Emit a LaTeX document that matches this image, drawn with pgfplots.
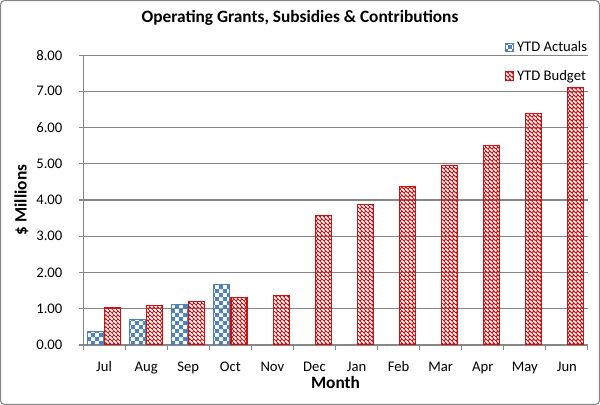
\documentclass[border=0pt]{standalone}
\usepackage{pgfplots}
\pgfplotsset{compat=1.18}
\usepackage{fontspec}
\setmainfont{Carlito}
\usetikzlibrary{patterns,patterns.meta}
\definecolor{actblue}{HTML}{4F81BD}
\definecolor{budred}{HTML}{D01010}
\definecolor{gridgray}{HTML}{868686}
\tikzdeclarepattern{
  name=zigzag,
  type=uncolored,
  bottom left={(-.1pt,-.1pt)},
  top right={(3.1pt,3.1pt)},
  tile size={(3pt,3pt)},
  code={
    \draw[line width=0.7pt] (0,0) -- (1.5pt,1.5pt) -- (3pt,0);
    \draw[line width=0.5pt] (0,3pt) -- (1.5pt,1.5pt);
  }
}
\tikzdeclarepattern{
  name=smallchecker,
  type=uncolored,
  bottom left={(0pt,0pt)},
  top right={(6pt,6pt)},
  tile size={(6pt,6pt)},
  code={
    \fill (0,0) rectangle (3pt,3pt);
    \fill (3pt,3pt) rectangle (6pt,6pt);
  }
}
\begin{document}
\begin{tikzpicture}[x=1pt,y=1pt]
% outer chart frame (600x405 px at 0.75pt/px)
\draw[gridgray, line width=0.8pt, rounded corners=3pt]
  (-61.9pt,-44.6pt) rectangle (387.4pt,258.4pt);
\node[font=\bfseries\fontsize{13}{15}\selectfont] at (162.75pt,245.5pt)
  {Operating Grants, Subsidies \& Contributions};
\begin{axis}[
    at={(0,0)}, anchor=south west,
    scale only axis,
    width=378.75pt, height=217.5pt,
    ybar=1pt,
    bar width=12pt,
    xmin=-0.5, xmax=11.5,
    ymin=0, ymax=8,
    xtick={0,...,11},
    xticklabels={Jul,Aug,Sep,Oct,Nov,Dec,Jan,Feb,Mar,Apr,May,Jun},
    minor xtick={-0.5,0.5,...,11.5},
    ytick={0,1,...,8},
    /pgf/number format/.cd, fixed, fixed zerofill, precision=2, assume math mode=true,
    /pgfplots/.cd,
    axis x line=bottom,
    axis y line=left,
    axis line style={-, draw=gridgray, line width=0.8pt},
    x tick style={draw=none},
    minor x tick style={draw=gridgray, line width=0.8pt},
    y tick style={draw=gridgray, line width=0.8pt},
    tick align=outside,
    major tick length=3pt,
    minor tick length=4pt,
    ymajorgrids=true,
    grid style={draw=gridgray, line width=0.8pt},
    tick label style={font=\fontsize{11}{13}\selectfont},
    xticklabel style={yshift=-6pt},
    yticklabel style={xshift=-9pt},
    xlabel={Month},
    ylabel={\$ Millions},
    xlabel style={font=\bfseries\fontsize{13}{15}\selectfont, yshift=4.5pt},
    ylabel style={font=\bfseries\fontsize{13}{15}\selectfont, yshift=-1pt},
    legend style={
        at={(1.012,1.066)}, anchor=north east,
        draw=none, fill=none,
        font=\fontsize{11}{13}\selectfont,
        row sep=8.5pt,
        legend cell align=left,
    },
    legend image code/.code={
        \draw[#1] (0.05cm,-0.1cm) rectangle (0.27cm,0.12cm);
    },
]
\addplot[draw=actblue, line width=0.6pt, pattern=smallchecker, pattern color=actblue]
  coordinates {(0,0.38) (1,0.70) (2,1.12) (3,1.67)};
\addplot[draw=budred, line width=0.8pt, pattern=zigzag, pattern color=budred]
  coordinates {(0,1.02) (1,1.08) (2,1.20) (3,1.30) (4,1.37) (5,3.57)
               (6,3.87) (7,4.38) (8,4.95) (9,5.50) (10,6.38) (11,7.10)};
\legend{YTD Actuals, YTD Budget}
\end{axis}
\end{tikzpicture}
\end{document}
